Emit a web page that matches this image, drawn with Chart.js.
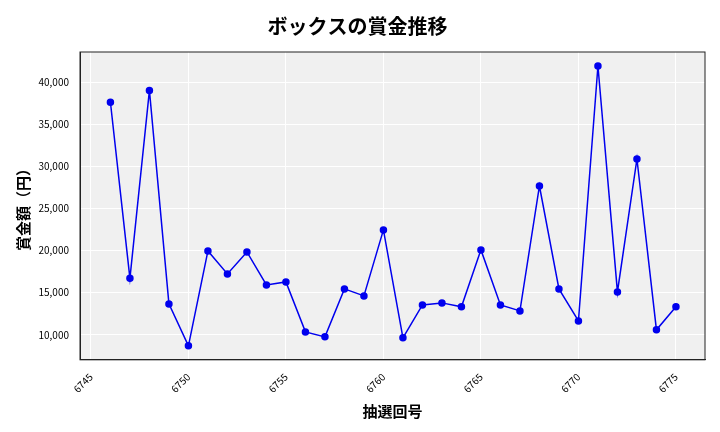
<!DOCTYPE html>
<html><head><meta charset="utf-8">
<script src="https://cdn.jsdelivr.net/npm/chart.js@4"></script>
<style>body{margin:0;background:#fff}#w{width:720px;height:432px}</style>
</head><body><div id="w"><canvas id="c"></canvas></div>
<script>
const draws=[6746,6747,6748,6749,6750,6751,6752,6753,6754,6755,6756,6757,6758,6759,6760,6761,6762,6763,6764,6765,6766,6767,6768,6769,6770,6771,6772,6773,6774,6775];
const prizes=[37600,16700,39000,13670,8690,19960,17230,19840,15920,16280,10350,9760,15450,14620,22450,9640,13550,13790,13320,20080,13550,12840,27660,15450,11650,41900,15090,30870,10590,13320];
const F='"Noto Sans CJK JP","Noto Sans",sans-serif';
const bg={id:'bg',beforeDraw(c){const a=c.chartArea,x=c.ctx;x.save();x.fillStyle='#f0f0f0';x.fillRect(a.left,a.top,a.right-a.left,a.bottom-a.top);x.restore();},
afterDraw(c){const a=c.chartArea,x=c.ctx;x.save();x.strokeStyle='#222';x.lineWidth=1;x.strokeRect(a.left,a.top,a.right-a.left,a.bottom-a.top);x.restore();}};
new Chart(document.getElementById('c'),{type:'line',
data:{datasets:[{data:draws.map((d,i)=>({x:d,y:prizes[i]})),borderColor:'#0000ee',backgroundColor:'#0000ee',borderWidth:1.5,pointRadius:3,tension:0}]},
options:{responsive:true,maintainAspectRatio:false,animation:false,
layout:{padding:{left:10,right:15,top:8,bottom:8}},
plugins:{legend:{display:false},title:{display:true,text:'ボックスの賞金推移',font:{family:F,size:20,weight:'bold'},color:'#000',padding:{top:6,bottom:14}}},
scales:{x:{type:'linear',min:6744.44,max:6776.49,afterBuildTicks(a){a.ticks=[6745,6750,6755,6760,6765,6770,6775].map(v=>({value:v}));},
ticks:{maxRotation:45,minRotation:45,color:'#000',font:{family:F,size:10},callback:v=>String(v)},
grid:{color:'#fff',lineWidth:1},border:{color:'#222'},
title:{display:true,text:'抽選回号',font:{family:F,size:15,weight:'bold'},color:'#000'}},
y:{min:7035,max:43560,afterBuildTicks(a){a.ticks=[10000,15000,20000,25000,30000,35000,40000].map(v=>({value:v}));},
afterFit(a){a.width=70;},
ticks:{color:'#000',font:{family:F,size:10},callback:v=>v.toLocaleString('en-US')},
grid:{color:'#fff',lineWidth:1},border:{color:'#222'},
title:{display:true,text:'賞金額（円）',font:{family:F,size:15,weight:'bold'},color:'#000'}}}},
plugins:[bg]});
</script></body></html>
